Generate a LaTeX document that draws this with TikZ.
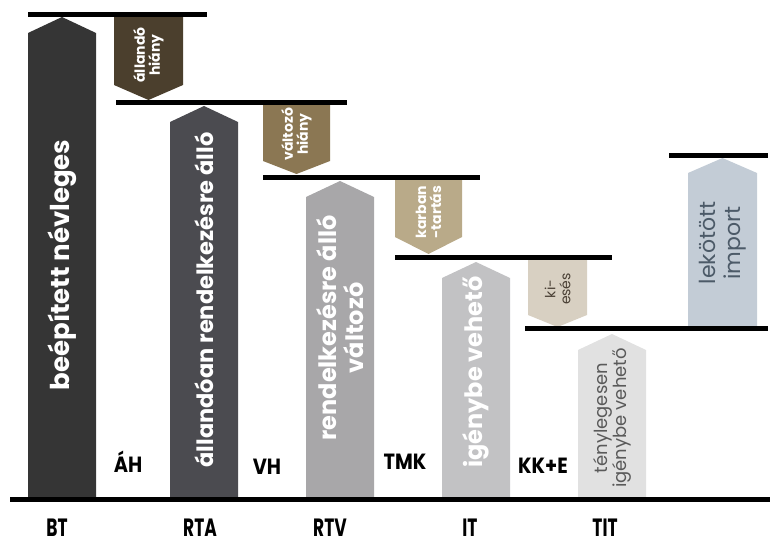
\documentclass[tikz,border=0pt]{standalone}
\usepackage{fontspec}
\setmainfont{Poppins}
\newfontfamily\condfont[FakeStretch=0.68]{Poppins}
\newfontfamily\gapfont[FakeStretch=0.88]{Poppins}
\definecolor{cBT}{HTML}{353535}
\definecolor{cRTA}{HTML}{4B4B50}
\definecolor{cRTV}{HTML}{A8A7A9}
\definecolor{cIT}{HTML}{C2C2C4}
\definecolor{cTIT}{HTML}{E1E1E1}
\definecolor{cIMP}{HTML}{C3CCD6}
\definecolor{pA}{HTML}{4B3F2D}
\definecolor{pB}{HTML}{8B7753}
\definecolor{pC}{HTML}{B9AA89}
\definecolor{pD}{HTML}{D8D0C2}
\definecolor{tKI}{HTML}{4A4035}
\definecolor{tTIT}{HTML}{5A5A5A}
\definecolor{tIMP}{HTML}{4C5A68}
\tikzset{
  bartext/.style={rotate=90, align=center, font=\bfseries\fontsize{26}{28}\selectfont, text=white, inner sep=0pt},
  penttext/.style={rotate=90, align=center, font=\bfseries\fontsize{14}{15}\selectfont, text=white, inner sep=0pt},
  level/.style={line width=5pt},
  lbl/.style={font=\condfont\bfseries\fontsize{25}{26}\selectfont, inner sep=0pt},
  gaplbl/.style={font=\gapfont\bfseries\fontsize{22}{23}\selectfont, inner sep=0pt}
}
\newcommand{\barshape}[6]{% x1 x2 peak shoulder color name
  \fill[#5] (#1,498) -- (#1,#4) -- ({(#1+#2)/2},#3) -- (#2,#4) -- (#2,498) -- cycle;
  \coordinate (#6) at ({(#1+#2)/2},498);}
\newcommand{\pentshape}[6]{% x1 x2 top sidebottom tip color
  \fill[#6] (#1,#3) -- (#2,#3) -- (#2,#4) -- ({(#1+#2)/2},#5) -- (#1,#4) -- cycle;}
\begin{document}
\begin{tikzpicture}[x=1pt,y=-1pt]
\useasboundingbox (0,0) rectangle (781,548);
% bars
\barshape{28}{96}{17}{33}{cBT}{bBT}
\barshape{170}{238}{106}{122}{cRTA}{bRTA}
\barshape{306}{374}{181}{197}{cRTV}{bRTV}
\barshape{442}{510}{262}{278}{cIT}{bIT}
\barshape{578}{646}{334}{350}{cTIT}{bTIT}
\fill[cIMP] (688,328) -- (688,173) -- (722.5,158) -- (757,173) -- (757,328) -- cycle;
% pentagons
\pentshape{114}{183}{15}{85}{100}{pA}
\pentshape{263}{330}{103}{161}{174}{pB}
\pentshape{395}{462}{178}{237}{254}{pC}
\pentshape{528}{587}{258}{315}{327}{pD}
% level lines
\coordinate (l1a) at (28,14.5); \coordinate (l1b) at (207,14.5);
\coordinate (l2a) at (116,102.5); \coordinate (l2b) at (347,102.5);
\coordinate (l3a) at (263,177.5); \coordinate (l3b) at (480,177.5);
\coordinate (l4a) at (395,257.5); \coordinate (l4b) at (612,257.5);
\coordinate (l5a) at (525,328.5); \coordinate (l5b) at (768,328.5);
\coordinate (l6a) at (669,155.5); \coordinate (l6b) at (768,155.5);
\coordinate (l0a) at (10,499.5); \coordinate (l0b) at (770,499.5);
\foreach \a/\b in {l1a/l1b,l2a/l2b,l3a/l3b,l4a/l4b,l5a/l5b,l6a/l6b,l0a/l0b}
  \draw[level] (\a) -- (\b);
% bar texts
\node[bartext] (tBT) at (62,265) {beépített névleges};
\node[bartext, font=\bfseries\fontsize{22.5}{24}\selectfont] (tRTA) at (204,300) {állandóan rendelkezésre álló};
\node[bartext, font=\bfseries\fontsize{24}{27}\selectfont] (tRTV) at (340,328) {rendelkezésre álló\\változó};
\node[bartext, font=\bfseries\fontsize{24}{26}\selectfont] (tIT) at (476,372) {igénybe vehető};
\node[bartext, font=\fontsize{18}{19}\selectfont, text=tTIT] (tTIT) at (612,418) {ténylegesen\\igénybe vehető};
\node[bartext, font=\fontsize{22}{25}\selectfont, text=tIMP] (tIMP) at (722.5,243) {lekötött\\import};
% pentagon texts
\node[penttext] (tA) at (148.5,55) {állandó\\hiány};
\node[penttext] (tB) at (296.5,134) {változó\\hiány};
\node[penttext] (tC) at (428.5,212) {karban\\-tartás};
\node[penttext, font=\fontsize{14}{15}\selectfont, text=tKI] (tD) at (557.5,289) {ki-\\esés};
% gap labels
\node[gaplbl] (gAH) at (128,462) {ÁH};
\node[gaplbl] (gVH) at (267,467) {VH};
\node[gaplbl] (gTMK) at (405,462) {TMK};
\node[gaplbl] (gKK) at (543,466) {KK+E};
% bottom labels
\node[lbl] (BT) at (57,528) {BT};
\node[lbl] (RTA) at (200,528) {RTA};
\node[lbl] (RTV) at (330,528) {RTV};
\node[lbl] (IT) at (470,528) {IT};
\node[lbl] (TIT) at (605,528) {TIT};
\end{tikzpicture}
\end{document}
